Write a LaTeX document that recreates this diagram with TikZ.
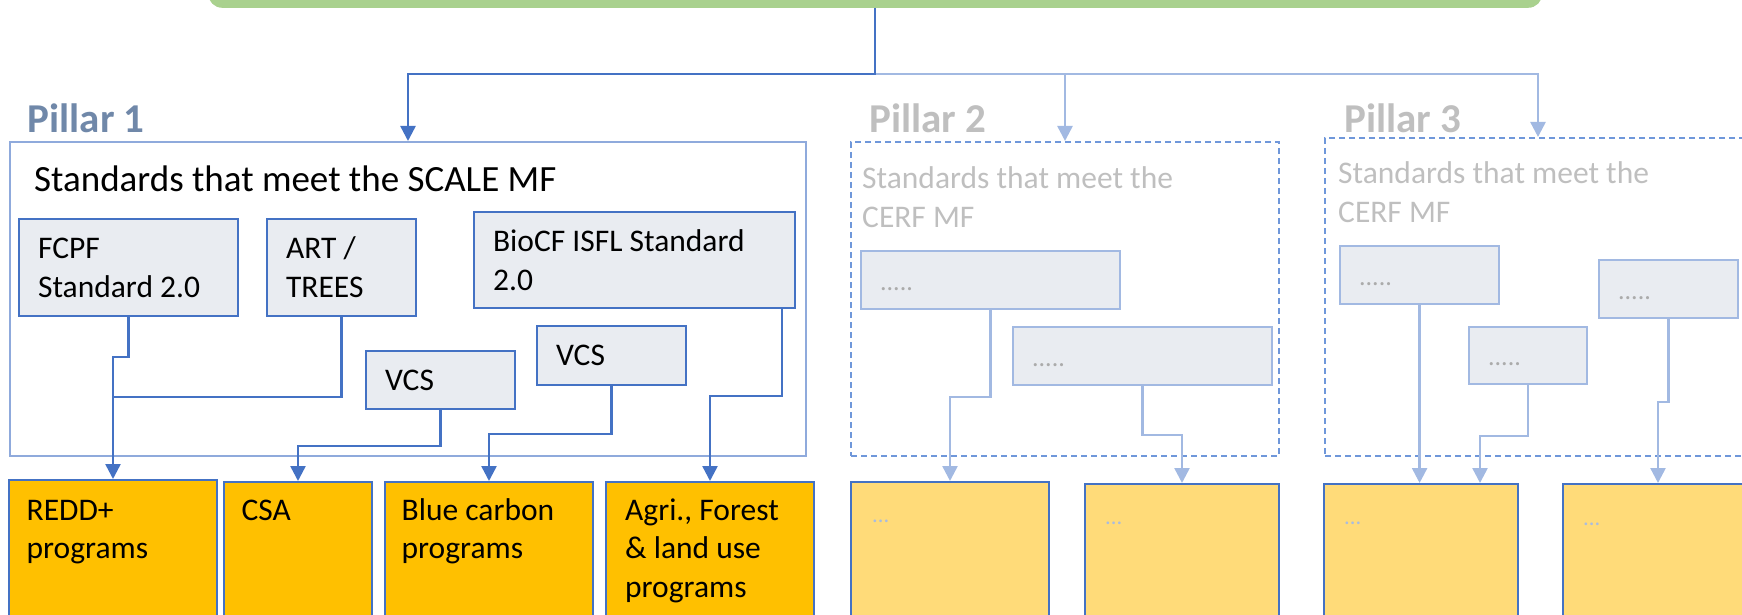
\documentclass[tikz,border=0pt]{standalone}
\usepackage{fontspec}
\setmainfont{Carlito}
\usetikzlibrary{arrows.meta}
\definecolor{topgreen}{HTML}{A9D18E}
\definecolor{linkblue}{HTML}{4472C4}
\definecolor{linklight}{HTML}{A2B9E2}
\definecolor{frameblue}{HTML}{8FAADC}
\definecolor{dashblue}{HTML}{6F97DA}
\definecolor{boxgrey}{HTML}{E9ECF1}
\definecolor{progorange}{HTML}{FFC000}
\definecolor{progyellow}{HTML}{FFDB79}
\definecolor{pillarblue}{HTML}{7088A9}
\definecolor{fadegrey}{HTML}{BFBFBF}
\definecolor{dotgrey}{HTML}{ABABAB}
\definecolor{dotblue}{HTML}{A9BCE0}
\begin{document}
\begin{tikzpicture}[x = 1pt, y = -1pt,
	txt/.style = {inner sep = 0pt, anchor = base west, align = left, font = \fontsize{31.5pt}{38.5pt}\selectfont},
	pillar/.style = {inner sep = 0pt, anchor = base west, font = \fontsize{41pt}{41pt}\selectfont\bfseries},
	stdbox/.style = {draw = linkblue, line width = 2.2pt, fill = boxgrey, anchor = north west, inner xsep = 19pt, inner ysep = 0pt, align = flush left, font = \fontsize{31.5pt}{39pt}\selectfont},
	stdboxlt/.style = {stdbox, draw = linklight, text = dotgrey, font = \fontsize{26pt}{26pt}\selectfont, text height = 20pt, text depth = 0pt},
	pillarframe/.style = {draw = frameblue, line width = 2pt, anchor = north west, inner sep = 0pt},
	pillarframelt/.style = {pillarframe, draw = dashblue, dash pattern = on 6pt off 4pt},
	progbox/.style = {draw = linkblue, line width = 2pt, fill = progorange, anchor = north west, inner sep = 0pt, minimum height = 170pt},
	progboxlt/.style = {progbox, fill = progyellow},
	conn/.style = {draw = linkblue, line width = 2.5pt, -{Triangle[length = 15pt, width = 15pt]}},
	connlt/.style = {conn, draw = linklight}]
	\useasboundingbox (0,0) rectangle (1742,615);
	\clip (0,0) rectangle (1742,615);
	% top bar
	\node[fill = topgreen, rounded corners = 14pt, anchor = south west, minimum width = 1334pt, minimum height = 40pt] (top) at (208,8) {};
	% pillar frames
	\node[pillarframe, minimum width = 796pt, minimum height = 314pt] (p1) at (9,141) {};
	\node[pillarframelt, minimum width = 428pt, minimum height = 314pt] (p2) at (850,141) {};
	\node[pillarframelt, minimum width = 426pt, minimum height = 318pt] (p3) at (1324,137) {};
	\node[pillar, text = pillarblue] (p1-t) at (27.5,132) {Pillar 1};
	\node[pillar, text = fadegrey] (p2-t) at (869,132) {Pillar 2};
	\node[pillar, text = fadegrey] (p3-t) at (1344,132) {Pillar 3};
	\node[txt, font = \fontsize{37pt}{37pt}\selectfont] (p1-h) at (34,191) {Standards that meet the SCALE MF};
	\node[txt, text = fadegrey, font = \fontsize{31.5pt}{39pt}\selectfont] (p2-h) at (862,227) {Standards that meet the\\CERF MF};
	\node[txt, text = fadegrey, font = \fontsize{31.5pt}{39pt}\selectfont] (p3-h) at (1338,222) {Standards that meet the\\CERF MF};
	% standards
	\node[stdbox, text width = 181pt, minimum height = 97pt] (fcpf) at (18,218) {FCPF\\Standard 2.0};
	\node[stdbox, text width = 111pt, minimum height = 97pt] (art) at (266,218) {ART /\\TREES};
	\node[stdbox, text width = 283pt, minimum height = 96pt] (bio) at (473,211) {BioCF ISFL Standard\\2.0};
	\node[stdbox, text width = 111pt, minimum height = 58pt] (vcs1) at (365,350) {VCS};
	\node[stdbox, text width = 111pt, minimum height = 59pt] (vcs2) at (536,325) {VCS};
	\node[stdboxlt, text width = 221pt, minimum height = 58pt] (ga) at (860,250) {.....};
	\node[stdboxlt, text width = 221pt, minimum height = 58pt] (gb) at (1012,326) {.....};
	\node[stdboxlt, text width = 121pt, minimum height = 58pt] (gc) at (1339,245) {.....};
	\node[stdboxlt, text width = 80pt, minimum height = 57pt] (gd) at (1468,326) {.....};
	\node[stdboxlt, text width = 101pt, minimum height = 58pt] (ge) at (1598,259) {.....};
	% programs
	\node[progbox, minimum width = 208pt] (redd) at (8,479) {};
	\node[progbox, minimum width = 148pt] (csa) at (223,481) {};
	\node[progbox, minimum width = 208pt] (blue) at (384,481) {};
	\node[progbox, minimum width = 208pt] (agri) at (605,481) {};
	\node[progboxlt, minimum width = 198pt] (p2a) at (850,481) {};
	\node[progboxlt, minimum width = 194pt] (p2b) at (1084,483) {};
	\node[progboxlt, minimum width = 194pt] (p3a) at (1323,483) {};
	\node[progboxlt, minimum width = 190pt] (p3b) at (1562,483) {};
	\node[txt] (redd-t) at (26.5,558.5) {REDD+\\programs};
	\node[txt] (csa-t) at (241.5,520) {CSA};
	\node[txt] (blue-t) at (401.5,558.5) {Blue carbon\\programs};
	\node[txt] (agri-t) at (625,597) {Agri., Forest\\\& land use\\programs};
	\foreach \b/\x/\y in {p2a/872/522, p2b/1105/524, p3a/1344/524, p3b/1583/525}
		\node[txt, text = dotblue, font = \fontsize{22.5pt}{22.5pt}\selectfont] (\b-t) at (\x,\y) {...};
	% connectors from the top
	\path (top.south) ++(0,66) coordinate (split);
	\draw[connlt] (split) -| (p2.north);
	\draw[connlt] (split) -| (p3.north);
	\draw[conn] (top.south) -- (split) -| (p1.north);
	% pillar 1
	\path (redd.north) ++(0,-82) coordinate (reddj);
	\draw[conn] (fcpf.south) -- ++(0,40) -| (redd.north);
	\draw[conn, -] (art.south) |- (reddj);
	\draw[conn] (vcs1.south) -- ++(0,36) -| (csa.north);
	\draw[conn] (vcs2.south) -- ++(0,48) -| (blue.north);
	\draw[conn] ([xshift = -14pt]bio.south east) -- ++(0,87) -| (agri.north);
	% pillar 2 and 3
	\draw[connlt] (ga.south) -- ++(0,87) -| (p2a.north);
	\draw[connlt] (gb.south) -- ++(0,49) -| (p2b.north);
	\draw[connlt] (gc.south) -- (gc.south |- p3a.north);
	\draw[connlt] (gd.south) -- ++(0,51) -| ([xshift = 59pt]p3a.north);
	\draw[connlt] (ge.south) -- ++(0,83) -| (p3b.north);
\end{tikzpicture}
\end{document}
